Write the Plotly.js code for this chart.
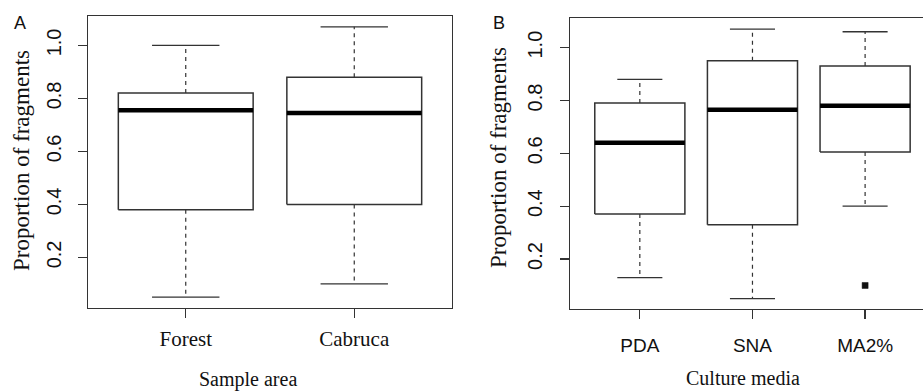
<!DOCTYPE html>
<html>
<head>
<meta charset="utf-8">
<script src="https://cdn.plot.ly/plotly-3.0.1.min.js"></script>
<style>
html,body{margin:0;padding:0;background:#fff;}
#chart{width:923px;height:391px;}
</style>
</head>
<body>
<div id="chart"></div>
<script>
// ---- Panel A data (Sample area) ----
const groupsA = ['Forest', 'Cabruca'];
const lowerA  = [0.05, 0.10];
const q1A     = [0.38, 0.40];
const medA    = [0.755, 0.745];
const q3A     = [0.82, 0.88];
const upperA  = [1.00, 1.07];

// ---- Panel B data (Culture media) ----
const groupsB = ['PDA', 'SNA', 'MA2%'];
const lowerB  = [0.13, 0.05, 0.40];
const q1B     = [0.37, 0.33, 0.605];
const medB    = [0.64, 0.765, 0.78];
const q3B     = [0.79, 0.95, 0.93];
const upperB  = [0.88, 1.07, 1.06];
const outlierGroupB = ['MA2%'];
const outlierValB   = [0.10];

const yTickVals = [0.2, 0.4, 0.6, 0.8, 1.0];
const yTickText = ['0.2', '0.4', '0.6', '0.8', '1.0'];

const INK = '#333333';
const HALF = 0.4, CAP = 0.2;

function panelTraces(groups, lower, q1, med, q3, upper, xa, ya) {
  const bx = [], by = [], mx = [], my = [], wx = [], wy = [], cx = [], cy = [];
  groups.forEach((g, i) => {
    const p = i + 1;
    bx.push(p - HALF, p + HALF, p + HALF, p - HALF, p - HALF, null);
    by.push(q1[i], q1[i], q3[i], q3[i], q1[i], null);
    mx.push(p - HALF, p + HALF, null);
    my.push(med[i], med[i], null);
    wx.push(p, p, null, p, p, null);
    wy.push(q3[i], upper[i], null, q1[i], lower[i], null);
    cx.push(p - CAP, p + CAP, null, p - CAP, p + CAP, null);
    cy.push(upper[i], upper[i], null, lower[i], lower[i], null);
  });
  const base = {type: 'scatter', mode: 'lines', xaxis: xa, yaxis: ya, hoverinfo: 'skip', showlegend: false};
  return [
    Object.assign({}, base, {x: wx, y: wy, line: {color: INK, width: 1.2, dash: '4px,4px'}}),
    Object.assign({}, base, {x: cx, y: cy, line: {color: INK, width: 1.3}}),
    Object.assign({}, base, {x: bx, y: by, line: {color: INK, width: 1.5}}),
    Object.assign({}, base, {x: mx, y: my, line: {color: '#000', width: 4.5}})
  ];
}

const traces = []
  .concat(panelTraces(groupsA, lowerA, q1A, medA, q3A, upperA, 'x', 'y'))
  .concat(panelTraces(groupsB, lowerB, q1B, medB, q3B, upperB, 'x2', 'y2'));

traces.push({
  type: 'scatter', mode: 'markers', xaxis: 'x2', yaxis: 'y2', showlegend: false, hoverinfo: 'skip',
  x: outlierGroupB.map(g => groupsB.indexOf(g) + 1), y: outlierValB,
  marker: {symbol: 'square', size: 6, color: '#111', line: {color: '#111', width: 0.5}}
});

const W = 923, H = 391;
const serif = 'Liberation Serif, Times New Roman, serif';
const sans = 'Liberation Sans, Arial, sans-serif';

const axisCommon = {
  showgrid: false, zeroline: false, showline: true, linecolor: INK, linewidth: 1.3,
  ticks: 'outside', ticklen: 9, tickwidth: 1.3, tickcolor: INK, fixedrange: true
};

const layout = {
  width: W, height: H,
  margin: {l: 0, r: 0, t: 0, b: 0},
  paper_bgcolor: '#fff', plot_bgcolor: '#fff',
  showlegend: false,
  xaxis: Object.assign({}, axisCommon, {
    domain: [88 / W, 452 / W], range: [0.42, 2.58], mirror: true,
    tickvals: groupsA.map((g, i) => i + 1), ticktext: groupsA, ticklabelstandoff: 2,
    tickfont: {family: serif, size: 21, color: '#111'}, anchor: 'y'
  }),
  yaxis: Object.assign({}, axisCommon, {
    domain: [(H - 308) / H, (H - 16) / H], range: [0.009, 1.111], mirror: true,
    tickvals: yTickVals, ticktext: yTickText, tickangle: -90, ticklabelstandoff: 9,
    tickfont: {family: sans, size: 20, color: '#111'}, anchor: 'x'
  }),
  xaxis2: Object.assign({}, axisCommon, {
    domain: [570 / W, 1], range: [0.38, 3.514], mirror: true,
    tickvals: groupsB.map((g, i) => i + 1), ticktext: groupsB, ticklabelstandoff: 10,
    tickfont: {family: sans, size: 19, color: '#111'}, anchor: 'y2'
  }),
  yaxis2: Object.assign({}, axisCommon, {
    domain: [(H - 309) / H, (H - 18) / H], range: [0.011, 1.112], mirror: false,
    tickvals: yTickVals, ticktext: yTickText, tickangle: -90, ticklabelstandoff: 10,
    tickfont: {family: sans, size: 20, color: '#111'}, anchor: 'x2'
  }),
  annotations: [
    {text: 'A', xref: 'paper', yref: 'paper', x: 20 / W, y: 1 - 23 / H, showarrow: false,
     font: {family: sans, size: 18, color: '#111'}, xanchor: 'center', yanchor: 'middle'},
    {text: 'B', xref: 'paper', yref: 'paper', x: 499 / W, y: 1 - 23 / H, showarrow: false,
     font: {family: sans, size: 18, color: '#111'}, xanchor: 'center', yanchor: 'middle'},
    {text: 'Proportion of fragments', xref: 'paper', yref: 'paper', x: 21 / W, y: 1 - 161 / H,
     textangle: -90, showarrow: false, font: {family: serif, size: 23, color: '#111'},
     xanchor: 'center', yanchor: 'middle'},
    {text: 'Proportion of fragments', xref: 'paper', yref: 'paper', x: 498 / W, y: 1 - 158 / H,
     textangle: -90, showarrow: false, font: {family: serif, size: 23, color: '#111'},
     xanchor: 'center', yanchor: 'middle'},
    {text: 'Sample area', xref: 'paper', yref: 'paper', x: 248 / W, y: 1 - 379 / H, showarrow: false,
     font: {family: serif, size: 20, color: '#111'}, xanchor: 'center', yanchor: 'middle'},
    {text: 'Culture media', xref: 'paper', yref: 'paper', x: 743 / W, y: 1 - 378 / H, showarrow: false,
     font: {family: serif, size: 20, color: '#111'}, xanchor: 'center', yanchor: 'middle'}
  ]
};

Plotly.newPlot('chart', traces, layout, {staticPlot: true, displayModeBar: false});
</script>
</body>
</html>
